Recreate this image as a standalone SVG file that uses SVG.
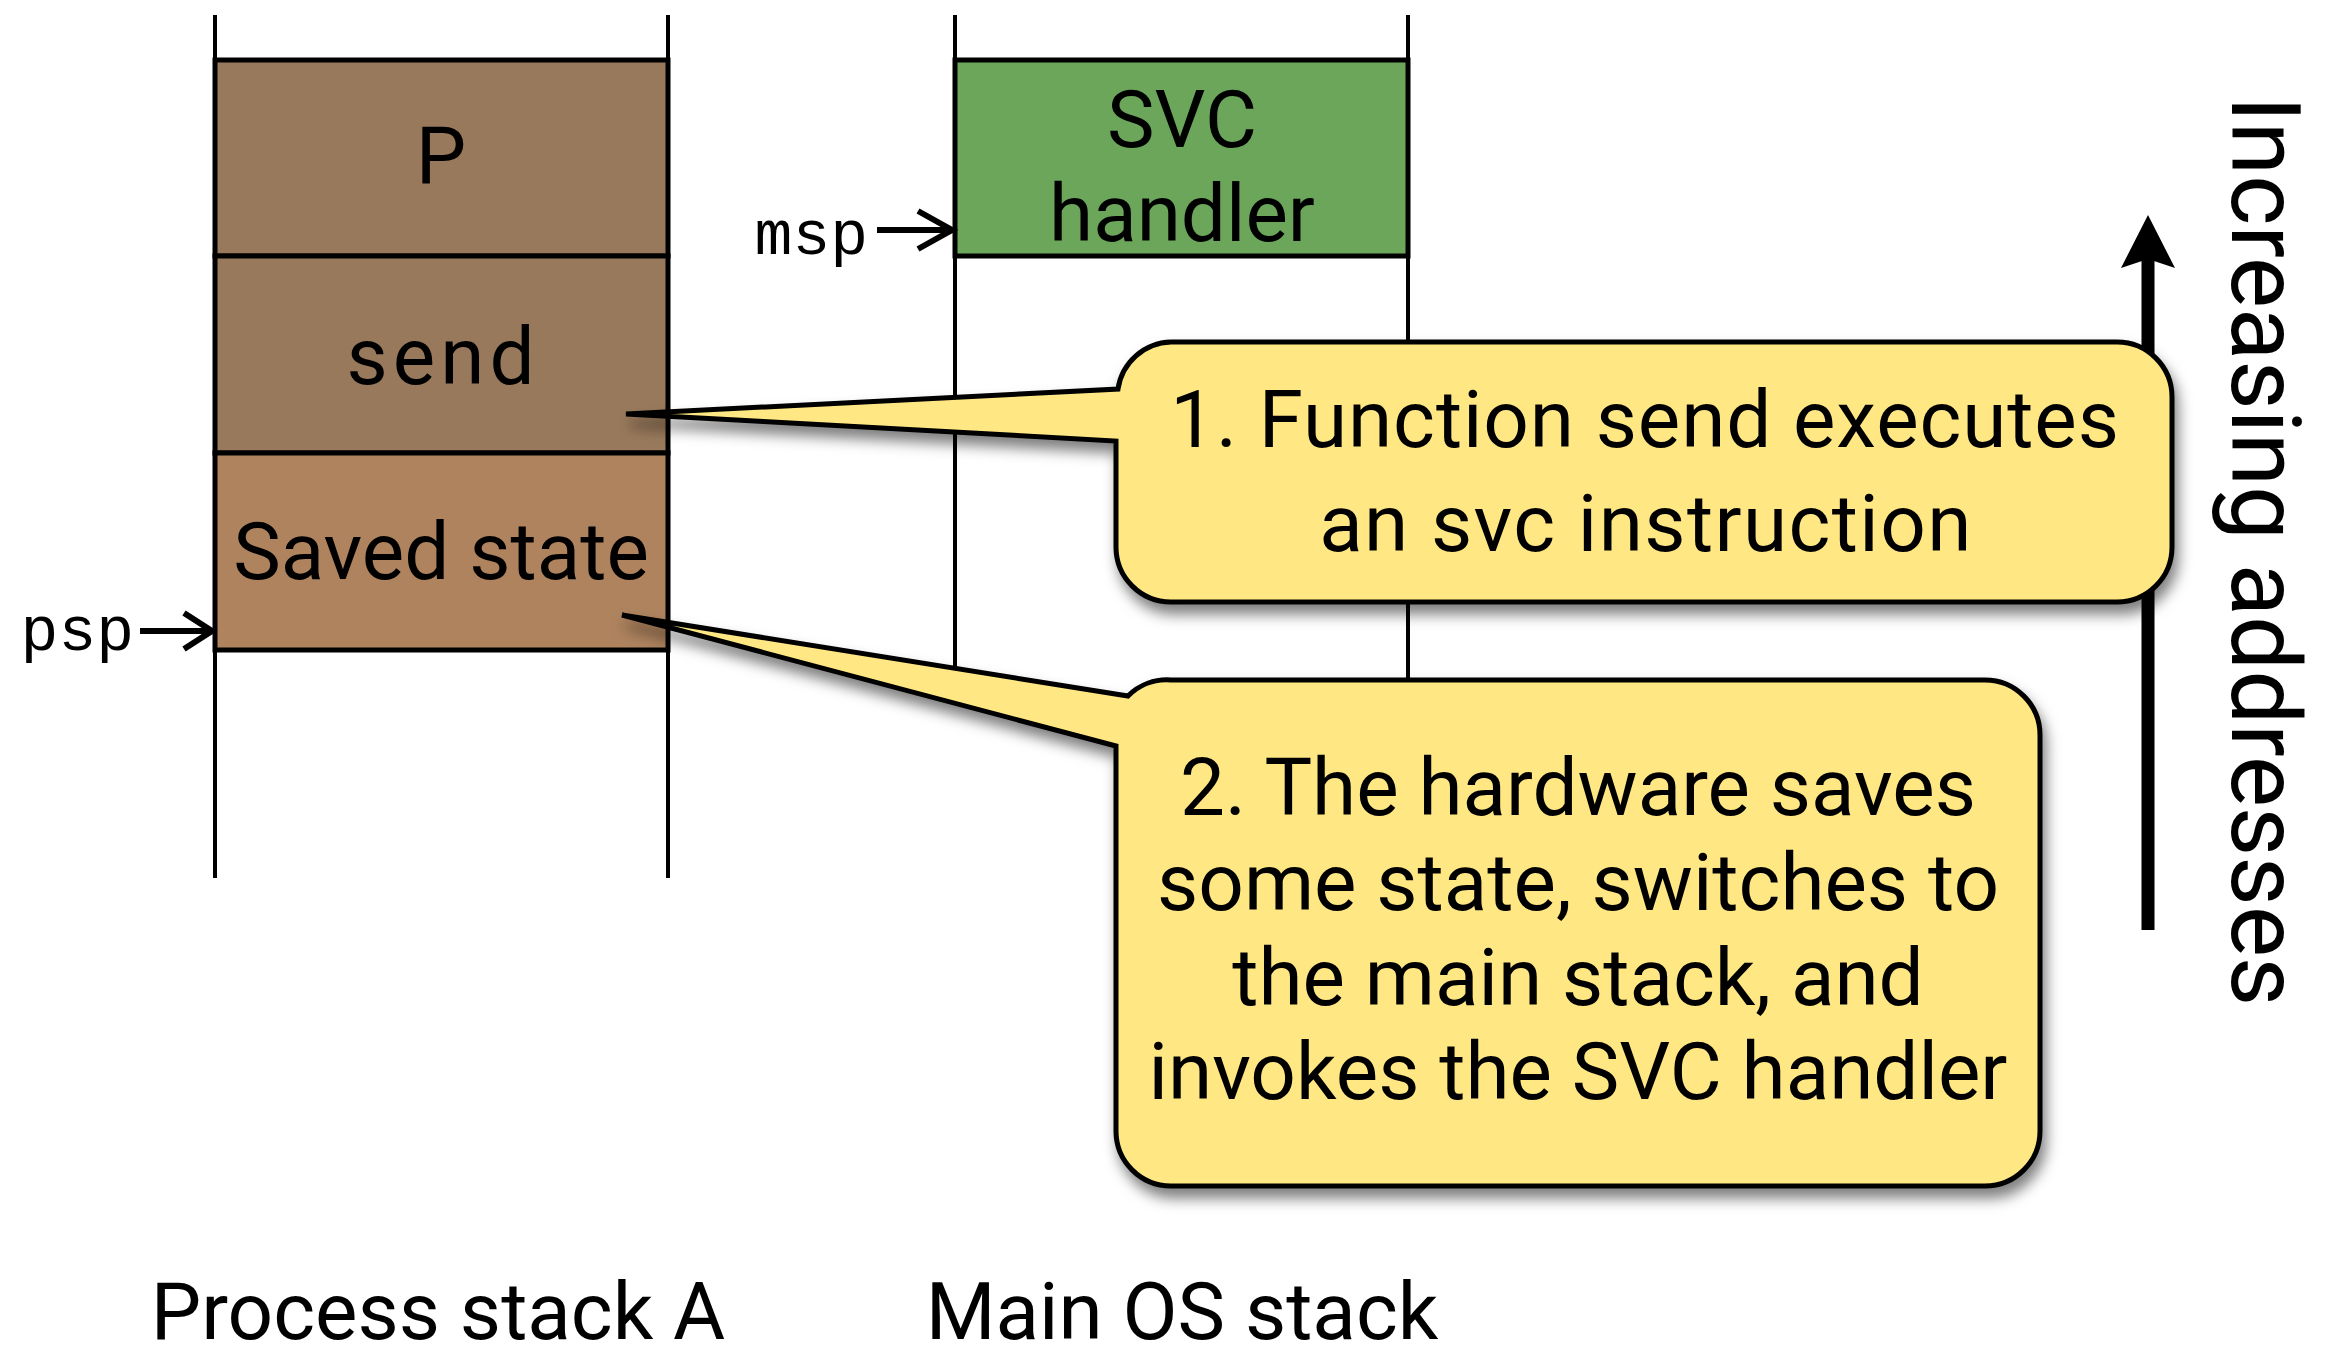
<svg xmlns="http://www.w3.org/2000/svg" width="2334" height="1345" viewBox="0 0 2334 1345">
<defs>
<style>
.col{stroke:#000;stroke-width:4;fill:none}
.box{stroke:#000;stroke-width:5}
.lbl{font-family:Roboto,"Liberation Sans",sans-serif;font-size:80px;fill:#000;text-anchor:middle}
.mono{font-family:"Liberation Mono","DejaVu Sans Mono",monospace;font-size:63px;fill:#000}
.ptr{stroke:#000;stroke-width:6;fill:none;stroke-linecap:butt}
.call{fill:#FFE883;stroke:#000;stroke-width:5;stroke-linejoin:miter}
</style>
<filter id="sh" x="-10%" y="-10%" width="125%" height="130%">
<feDropShadow dx="4" dy="10" stdDeviation="7" flood-color="#000" flood-opacity="0.5"/>
</filter>
</defs>
<rect width="2334" height="1345" fill="#fff"/>

<g id="process-stack">
<line class="col" x1="215" y1="15" x2="215" y2="878"/>
<line class="col" x1="668" y1="15" x2="668" y2="878"/>
</g>
<g id="main-stack">
<line class="col" x1="955" y1="15" x2="955" y2="685"/>
<line class="col" x1="1408" y1="15" x2="1408" y2="685"/>
</g>

<g id="frame-P">
<rect class="box" x="215" y="60" width="453" height="196" fill="#98795B"/>
<text class="lbl" x="441" y="183">P</text>
</g>
<g id="frame-send">
<rect class="box" x="215" y="256" width="453" height="197" fill="#98795B"/>
<text class="lbl" x="443" y="384" letter-spacing="5">send</text>
</g>
<g id="frame-saved">
<rect class="box" x="215" y="453" width="453" height="197" fill="#AE835E"/>
<text class="lbl" x="441" y="579">Saved state</text>
</g>
<g id="frame-svc">
<rect class="box" x="955" y="60" width="453" height="196" fill="#6BA65A"/>
<text class="lbl" x="1182" y="147">SVC</text>
<text class="lbl" x="1182" y="241">handler</text>
</g>

<g id="connectors">
<g id="msp-pointer">
<line class="ptr" x1="877" y1="230" x2="951" y2="230"/>
<polyline class="ptr" points="918,211 952,230 918,249"/>
</g>
<g id="psp-pointer">
<line class="ptr" x1="140" y1="631" x2="211" y2="631"/>
<polyline class="ptr" points="184,613 212,631 184,649"/>
</g>
<g id="address-arrow">
<line x1="2148" y1="930" x2="2148" y2="255" stroke="#000" stroke-width="13"/>
<polygon points="2148,215 2175,268 2148,259 2121,268" fill="#000"/>
</g>
</g>

<text class="mono" x="868" y="254" text-anchor="end">msp</text>
<text class="mono" x="134" y="650" text-anchor="end">psp</text>

<g id="callout-1">
<path class="call" filter="url(#sh)" d="M1171,342 H2117 A55,55 0 0 1 2172,397 V547 A55,55 0 0 1 2117,602 H1171 A55,55 0 0 1 1116,547 V441 L626,414 L1118,389 A55,55 0 0 1 1171,342 Z"/>
<text class="lbl" x="1645" y="447" letter-spacing="0.9">1. Function send executes</text>
<text class="lbl" x="1646" y="551" letter-spacing="1.4">an svc instruction</text>
</g>

<g id="callout-2">
<path class="call" filter="url(#sh)" d="M1171,680 H1985 A55,55 0 0 1 2040,735 V1131 A55,55 0 0 1 1985,1186 H1171 A55,55 0 0 1 1116,1131 V746 L622,615 L1128,696 A55,55 0 0 1 1171,680 Z"/>
<text class="lbl" x="1578" y="815">2. The hardware saves</text>
<text class="lbl" x="1578" y="910">some state, switches to</text>
<text class="lbl" x="1578" y="1005">the main stack, and</text>
<text class="lbl" x="1578" y="1099">invokes the SVC handler</text>
</g>

<g id="axis-label">
<text class="lbl" transform="translate(2232,96) rotate(90)" x="0" y="0" style="text-anchor:start;font-size:96px">Increasing addresses</text>
</g>

<g id="stack-labels">
<text class="lbl" x="438" y="1339">Process stack A</text>
<text class="lbl" x="1182" y="1339">Main OS stack</text>
</g>
</svg>
